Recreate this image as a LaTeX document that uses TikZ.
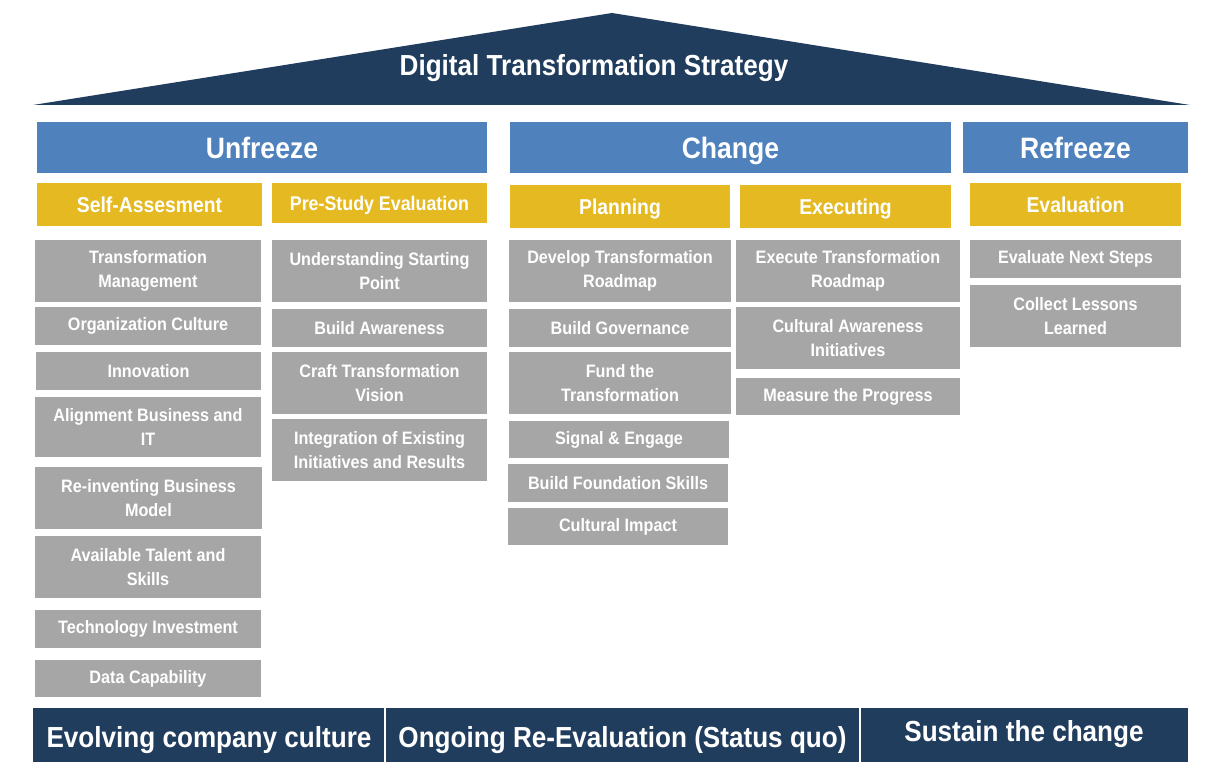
\documentclass[tikz,border=0pt]{standalone}
\usepackage{fontspec}
\setmainfont{Liberation Sans}[FakeStretch=0.9]
\definecolor{navy}{HTML}{213D5E}
\definecolor{phaseblue}{HTML}{4F81BD}
\definecolor{stepgold}{HTML}{E5B922}
\definecolor{taskgray}{HTML}{A6A6A6}
\tikzset{
  cellbase/.style={inner sep=0pt, outer sep=0pt, align=center, text=white, font=\bfseries},
  % single line of text of the given size, kept on a fixed baseline
  oneline/.style={font=\bfseries\fontsize{#1}{#1}\selectfont, text height={0.92*#1*1pt}, text depth={0.2*#1*1pt}},
  phasebox/.style={cellbase, oneline=29.5, fill=phaseblue},
  stagebox/.style={cellbase, oneline=21.5, fill=stepgold},
  taskbox/.style={cellbase, fill=taskgray, font=\bfseries\fontsize{18}{24}\selectfont},
  bandbox/.style={cellbase, fill=navy},
  bandtext/.style={cellbase, oneline=29}
}
% box from (x1,y1) to (x2,y2), measured from the top left corner
\newcommand\cellat[7]{%
  \node[#1, anchor=north west, minimum width={(#5-#3)*1pt}, minimum height={(#6-#4)*1pt}] (#2) at (#3,#4) {#7};}
\begin{document}
\begin{tikzpicture}[x=1pt, y=-1pt]
\useasboundingbox (0,0) rectangle (1208,770);
\fill[white] (0,0) rectangle (1208,770);

% roof
\fill[navy] (33,105) -- (612,13) -- (1190,105) -- cycle;
\node[cellbase, oneline=29] (title) at (594,65) {Digital Transformation Strategy};

% phases
\cellat{phasebox}{unfreeze}{37}{122}{487}{173}{Unfreeze}
\cellat{phasebox}{change}{510}{122}{951}{173}{Change}
\cellat{phasebox}{refreeze}{963}{122}{1188}{173}{Refreeze}

% stages
\cellat{stagebox}{selfassess}{37}{183}{262}{226}{Self-Assesment}
\cellat{stagebox, oneline=19.8}{prestudy}{272}{183}{487}{223}{Pre-Study Evaluation}
\cellat{stagebox}{planning}{510}{185}{730}{228}{Planning}
\cellat{stagebox}{executing}{740}{185}{951}{228}{Executing}
\cellat{stagebox}{evaluation}{970}{183}{1181}{226}{Evaluation}

% self-assessment tasks
\cellat{taskbox}{sa1}{35}{240}{261}{302}{Transformation\\Management}
\cellat{taskbox}{sa2}{35}{307}{261}{345}{Organization Culture}
\cellat{taskbox}{sa3}{36}{352}{261}{390}{Innovation}
\cellat{taskbox}{sa4}{35}{397}{261}{457}{Alignment Business and\\IT}
\cellat{taskbox}{sa5}{35}{467}{262}{529}{Re-inventing Business\\Model}
\cellat{taskbox}{sa6}{35}{536}{261}{598}{Available Talent and\\Skills}
\cellat{taskbox}{sa7}{35}{610}{261}{648}{Technology Investment}
\cellat{taskbox}{sa8}{35}{660}{261}{697}{Data Capability}

% pre-study tasks
\cellat{taskbox}{ps1}{272}{240}{487}{302}{Understanding Starting\\Point}
\cellat{taskbox}{ps2}{272}{309}{487}{347}{Build Awareness}
\cellat{taskbox}{ps3}{272}{352}{487}{414}{Craft Transformation\\Vision}
\cellat{taskbox}{ps4}{272}{419}{487}{481}{Integration of Existing\\Initiatives and Results}

% planning tasks
\cellat{taskbox}{pl1}{509}{240}{731}{302}{Develop Transformation\\Roadmap}
\cellat{taskbox}{pl2}{509}{309}{731}{347}{Build Governance}
\cellat{taskbox}{pl3}{509}{352}{731}{414}{Fund the\\Transformation}
\cellat{taskbox}{pl4}{509}{421}{729}{458}{Signal \& Engage}
\cellat{taskbox}{pl5}{508}{464}{728}{502}{Build Foundation Skills}
\cellat{taskbox}{pl6}{508}{508}{728}{545}{Cultural Impact}

% executing tasks
\cellat{taskbox}{ex1}{736}{240}{960}{302}{Execute Transformation\\Roadmap}
\cellat{taskbox}{ex2}{736}{307}{960}{369}{Cultural Awareness\\Initiatives}
\cellat{taskbox}{ex3}{736}{378}{960}{415}{Measure the Progress}

% evaluation tasks
\cellat{taskbox}{ev1}{970}{240}{1181}{278}{Evaluate Next Steps}
\cellat{taskbox}{ev2}{970}{285}{1181}{347}{Collect Lessons\\Learned}

% foundation band
\cellat{bandbox}{band1}{33}{708}{385}{762}{}
\cellat{bandbox}{band2}{385}{708}{860}{762}{}
\cellat{bandbox}{band3}{860}{708}{1188}{762}{}
\node[bandtext] (culture) at ([yshift=-2pt]band1.center) {Evolving company culture};
\node[bandtext] (reeval) at ([yshift=-2pt]band2.center) {Ongoing Re-Evaluation (Status quo)};
\node[bandtext] (sustain) at ([yshift=4pt]band3.center) {Sustain the change};
\draw[white, line width=1.5pt] (band1.north east) -- (band1.south east);
\draw[white, line width=1.5pt] (band2.north east) -- (band2.south east);
\end{tikzpicture}
\end{document}
